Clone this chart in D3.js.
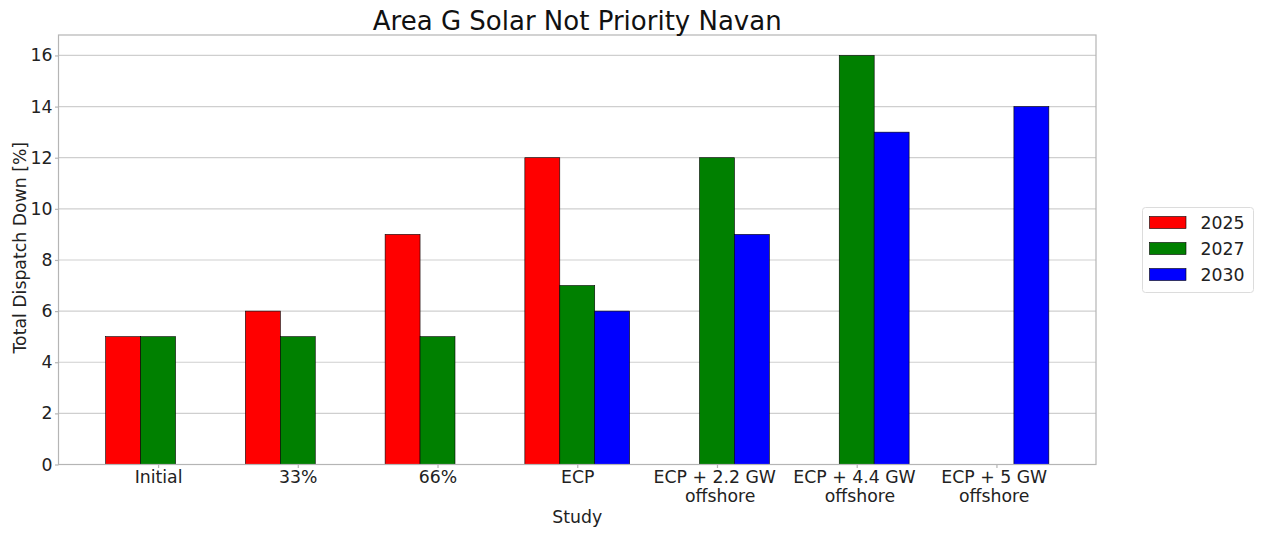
<!DOCTYPE html>
<html>
<head>
<meta charset="utf-8">
<script src="https://cdn.jsdelivr.net/npm/d3@7"></script>
<style>
  html, body { margin: 0; padding: 0; background: #fff; }
  svg { display: block; font-family: "DejaVu Sans", sans-serif; }
  .xlabel { white-space: pre; }
</style>
</head>
<body>
<svg id="chart" width="1262" height="533"></svg>
<script>
// Study cases along the x axis
const studies = ["Initial", "33%", "66%", "ECP", "ECP + 2.2 GW \n offshore", "ECP + 4.4 GW \n offshore", "ECP + 5 GW \noffshore "];

// Dispatch-down per study year (null = case not run for that year)
const years = ["2025", "2027", "2030"];
const values2025 = [5, 6, 9, 12, null, null, null];
const values2027 = [5, 5, 5, 7, 12, 16, null];
const values2030 = [null, null, null, 6, 9, 13, 14];
const yearColors = ["#ff0000", "#008000", "#0000ff"];

const yTicks = [0, 2, 4, 6, 8, 10, 12, 14, 16];

const series = [values2025, values2027, values2030];

const margin = { left: 58.5, right: 1096, top: 35, bottom: 464.5 };
const barW = 0.25;            // bar width in category units
const offsets = [-barW, 0, barW];
const fs = 17.3;              // tick / label font size
const textColor = "#222";

const svg = d3.select("#chart");

const x = d3.scaleLinear()
  .domain([-0.7125, studies.length - 1 + 0.7125])
  .range([margin.left, margin.right]);

const y = d3.scaleLinear()
  .domain([0, 16.8])
  .range([margin.bottom, margin.top]);

// horizontal grid
svg.append("g")
  .selectAll("line")
  .data(yTicks)
  .join("line")
  .attr("x1", margin.left)
  .attr("x2", margin.right)
  .attr("y1", d => y(d))
  .attr("y2", d => y(d))
  .attr("stroke", "#cfcfcf")
  .attr("stroke-width", 1.2);

// bars
series.forEach((vals, si) => {
  svg.append("g")
    .selectAll("rect")
    .data(vals.map((v, i) => ({ v, i })).filter(d => d.v !== null))
    .join("rect")
    .attr("x", d => x(d.i + offsets[si] - barW / 2))
    .attr("width", d => x(d.i + offsets[si] + barW / 2) - x(d.i + offsets[si] - barW / 2))
    .attr("y", d => y(d.v))
    .attr("height", d => y(0) - y(d.v))
    .attr("fill", yearColors[si])
    .attr("stroke", "#000")
    .attr("stroke-width", 0.6);
});

// frame
svg.append("rect")
  .attr("x", margin.left)
  .attr("y", margin.top)
  .attr("width", margin.right - margin.left)
  .attr("height", margin.bottom - margin.top)
  .attr("fill", "none")
  .attr("stroke", "#b5b5b5")
  .attr("stroke-width", 1.2);

// y axis
const yAxis = svg.append("g")
  .attr("transform", `translate(${margin.left},0)`)
  .call(d3.axisLeft(y).tickValues(yTicks).tickSize(3.5).tickPadding(2.5));
yAxis.select(".domain").remove();
yAxis.selectAll(".tick line").attr("stroke", "#b5b5b5").attr("stroke-width", 1.2);
yAxis.selectAll(".tick text")
  .attr("font-size", fs)
  .attr("fill", textColor)
  .attr("font-family", "DejaVu Sans, sans-serif");

// x axis (multi-line study names, spaces kept as written)
const xAxis = svg.append("g")
  .attr("transform", `translate(0,${margin.bottom})`)
  .call(d3.axisBottom(x).tickValues(d3.range(studies.length)).tickSize(3.5).tickPadding(3).tickFormat(() => ""));
xAxis.select(".domain").remove();
xAxis.selectAll(".tick line").attr("stroke", "#b5b5b5").attr("stroke-width", 1.2);
xAxis.selectAll(".tick text")
  .attr("class", "xlabel")
  .attr("font-size", fs)
  .attr("fill", textColor)
  .attr("font-family", "DejaVu Sans, sans-serif")
  .each(function (d) {
    const t = d3.select(this);
    t.attr("y", 18.2).attr("dy", null);
    studies[d].split("\n").forEach((line, li) => {
      t.append("tspan")
        .attr("x", 0)
        .attr("y", 18.2 + li * 19.6)
        .text(line);
    });
  });

// axis titles
svg.append("text")
  .attr("x", (margin.left + margin.right) / 2)
  .attr("y", 522.5)
  .attr("text-anchor", "middle")
  .attr("font-size", fs)
  .attr("fill", textColor)
  .text("Study");

svg.append("text")
  .attr("transform", `translate(26,${(margin.top + margin.bottom) / 2 - 2}) rotate(-90)`)
  .attr("text-anchor", "middle")
  .attr("font-size", fs)
  .attr("fill", textColor)
  .text("Total Dispatch Down [%]");

// title
svg.append("text")
  .attr("x", (margin.left + margin.right) / 2)
  .attr("y", 29.5)
  .attr("text-anchor", "middle")
  .attr("font-size", 26)
  .attr("fill", "#111")
  .text("Area G Solar Not Priority Navan");

// legend
const legend = svg.append("g").attr("transform", "translate(1142,207)");
legend.append("rect")
  .attr("x", 0.5).attr("y", 0.5)
  .attr("width", 111).attr("height", 85)
  .attr("rx", 3)
  .attr("fill", "#fff")
  .attr("stroke", "#dcdcdc");
years.forEach((yr, i) => {
  const row = legend.append("g").attr("transform", `translate(0,${15.5 + i * 26})`);
  row.append("rect")
    .attr("x", 7.5).attr("y", -6)
    .attr("width", 36.5).attr("height", 12)
    .attr("fill", yearColors[i])
    .attr("stroke", "#000")
    .attr("stroke-width", 0.6);
  row.append("text")
    .attr("x", 58.5)
    .attr("y", 6)
    .attr("font-size", fs)
    .attr("fill", textColor)
    .text(yr);
});
</script>
</body>
</html>
